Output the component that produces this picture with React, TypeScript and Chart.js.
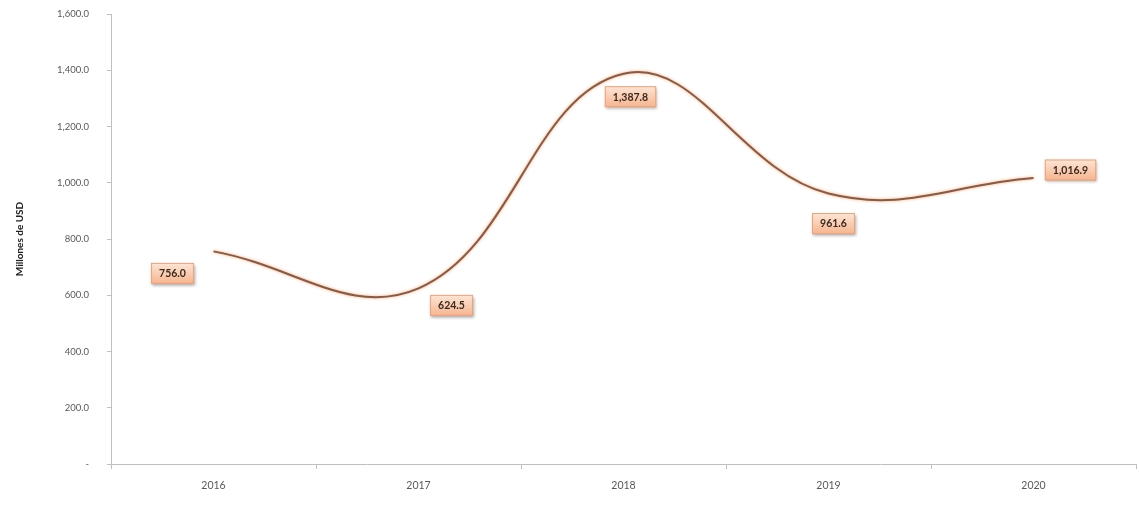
import React, { useEffect, useRef } from "react";
import { Chart, registerables } from "chart.js";

Chart.register(...registerables);

const categories = ["2016", "2017", "2018", "2019", "2020"];
const values = [756.0, 624.5, 1387.8, 961.6, 1016.9];
const valueLabels = ["756.0", "624.5", "1,387.8", "961.6", "1,016.9"];
const yTitle = "Millones de USD";

// label box offsets relative to point (styling)
const labelOffsets: [number, number][] = [
  [-41, 22],
  [33, 17],
  [7, 23],
  [5, 30],
  [37, -8],
];

const FONT = "Lato, 'Open Sans', sans-serif";

const lineGlow = {
  id: "lineGlow",
  beforeDatasetDraw(chart: any) {
    const ctx = chart.ctx;
    ctx.save();
    ctx.shadowColor = "rgba(240,150,90,0.9)";
    ctx.shadowBlur = 3;
  },
  afterDatasetDraw(chart: any) {
    chart.ctx.restore();
  },
};

const boxLabels = {
  id: "boxLabels",
  afterDatasetsDraw(chart: any) {
    const ctx = chart.ctx;
    const meta = chart.getDatasetMeta(0);
    ctx.save();
    ctx.font = `bold 10.5px ${FONT}`;
    meta.data.forEach((pt: any, i: number) => {
      const text = valueLabels[i];
      const [dx, dy] = labelOffsets[i];
      const cx = pt.x + dx;
      const cy = pt.y + dy;
      const w = ctx.measureText(text).width + 16;
      const h = 21;
      const x = cx - w / 2;
      const y = cy - h / 2;
      ctx.save();
      ctx.shadowColor = "rgba(0,0,0,0.35)";
      ctx.shadowBlur = 3;
      ctx.shadowOffsetX = 1;
      ctx.shadowOffsetY = 2;
      const g = ctx.createLinearGradient(0, y, 0, y + h);
      g.addColorStop(0, "#FDE6D6");
      g.addColorStop(1, "#F6B48E");
      ctx.fillStyle = g;
      ctx.fillRect(x, y, w, h);
      ctx.restore();
      ctx.strokeStyle = "#EBA27A";
      ctx.lineWidth = 1;
      ctx.strokeRect(x + 0.5, y + 0.5, w - 1, h - 1);
      ctx.fillStyle = "#3A2A20";
      ctx.textAlign = "center";
      ctx.textBaseline = "middle";
      ctx.fillText(text, cx, cy + 0.5);
    });
    ctx.restore();
  },
};

export default function App() {
  const ref = useRef<HTMLCanvasElement>(null);
  useEffect(() => {
    document.body.style.margin = "0";
    const chart = new Chart(ref.current!, {
      type: "line",
      data: {
        labels: categories,
        datasets: [
          {
            data: values,
            borderColor: "#8A5A44",
            borderWidth: 2,
            tension: 0.4,
            pointRadius: 0,
            fill: false,
          },
        ],
      },
      options: {
        animation: false,
        responsive: false,
        layout: { padding: { top: 14, right: 3, left: 0, bottom: 0 } },
        plugins: { legend: { display: false }, tooltip: { enabled: false } },
        scales: {
          x: {
            offset: true,
            grid: {
              offset: true,
              drawOnChartArea: false,
              drawTicks: true,
              tickLength: 5,
              color: "#BFBFBF",
            },
            border: { color: "#BFBFBF", width: 1 },
            ticks: {
              color: "#595959",
              font: { family: FONT, size: 10.5 },
              padding: 10,
            },
            afterFit(scale: any) {
              scale.height = 46;
              scale.paddingLeft = 0;
              scale.paddingRight = 0;
            },
          },
          y: {
            min: 0,
            max: 1600,
            grid: {
              drawOnChartArea: false,
              drawTicks: true,
              tickLength: 4,
              color: "#BFBFBF",
            },
            border: { color: "#BFBFBF", width: 1 },
            ticks: {
              stepSize: 200,
              color: "#595959",
              font: { family: FONT, size: 9.5 },
              padding: 18,
              callback: (v: any) =>
                Number(v) === 0
                  ? "-"
                  : Number(v).toLocaleString("en-US", {
                      minimumFractionDigits: 1,
                      maximumFractionDigits: 1,
                    }),
            },
            title: {
              display: true,
              text: yTitle,
              color: "#222",
              font: { family: FONT, size: 10, weight: "bold" },
              padding: { top: 14, bottom: 6 },
            },
            afterFit(scale: any) {
              scale.width = 111;
              scale.paddingTop = 0;
              scale.paddingBottom = 0;
            },
          },
        },
      },
      plugins: [lineGlow, boxLabels],
    });
    return () => chart.destroy();
  }, []);
  return (
    <div style={{ width: 1139, height: 510, background: "#fff" }}>
      <canvas ref={ref} width={1139} height={510} />
    </div>
  );
}
